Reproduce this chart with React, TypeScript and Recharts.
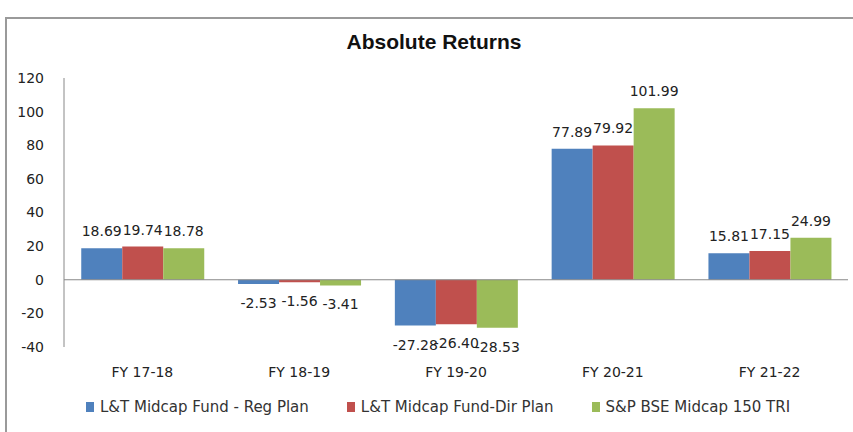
import { Bar, BarChart, Legend, ReferenceLine, XAxis, YAxis } from "recharts";

const categories = ["FY 17-18", "FY 18-19", "FY 19-20", "FY 20-21", "FY 21-22"];
const regPlan = [18.69, -2.53, -27.28, 77.89, 15.81];
const dirPlan = [19.74, -1.56, -26.4, 79.92, 17.15];
const benchmark = [18.78, -3.41, -28.53, 101.99, 24.99];
const yTicks = [-40, -20, 0, 20, 40, 60, 80, 100, 120];

const series = [
  { key: "reg", name: "L&T Midcap Fund - Reg Plan", color: "#4F81BD" },
  { key: "dir", name: "L&T Midcap Fund-Dir Plan", color: "#C0504D" },
  { key: "bench", name: "S&P BSE Midcap 150 TRI", color: "#9BBB59" },
];

const data = categories.map((c, i) => ({
  name: c,
  reg: regPlan[i],
  dir: dirPlan[i],
  bench: benchmark[i],
}));

const FONT = "'DejaVu Sans', sans-serif";

const ValueLabel = (props: any) => {
  const { x, y, width, height, value } = props;
  const top = Math.min(y, y + height);
  const bottom = Math.max(y, y + height);
  const ty = value >= 0 ? top - 17 : bottom + 19;
  return (
    <text
      x={x + width / 2}
      y={ty}
      textAnchor="middle"
      dominantBaseline="central"
      fontSize={14}
      fontFamily={FONT}
      fill="#222"
    >
      {Number(value).toFixed(2)}
    </text>
  );
};

const LegendContent = (props: any) => {
  const { payload } = props;
  return (
    <div style={{ display: "flex", gap: 38, fontFamily: FONT, fontSize: 15, color: "#333" }}>
      {payload.map((p: any) => (
        <div key={p.value} style={{ display: "flex", alignItems: "center" }}>
          <span style={{ width: 8, height: 10, background: p.color, marginRight: 6 }} />
          <span>{p.value}</span>
        </div>
      ))}
    </div>
  );
};

const App = () => {
  return (
    <div
      style={{
        position: "absolute",
        left: 0,
        top: 0,
        width: 853,
        height: 432,
        background: "#fff",
        overflow: "hidden",
      }}
    >
      <div
        style={{
          position: "absolute",
          left: 5,
          top: 17,
          width: 870,
          height: 440,
          border: "2px solid #9a9a9a",
        }}
      />
      <div
        style={{
          position: "absolute",
          left: 6,
          width: 856,
          top: 30,
          textAlign: "center",
          fontFamily: "'Liberation Sans', sans-serif",
          fontWeight: "bold",
          fontSize: 21,
          color: "#111",
        }}
      >
        Absolute Returns
      </div>
      <div style={{ position: "absolute", left: 0, top: 0 }}>
        <BarChart
          width={853}
          height={432}
          data={data}
          margin={{ top: 78, right: 5, bottom: 55, left: 0 }}
          barCategoryGap="11%"
          barGap={0}
        >
          <XAxis
            dataKey="name"
            axisLine={false}
            tickLine={false}
            tickSize={0}
            tickMargin={20}
            height={30}
            tick={{ fontSize: 14, fontFamily: FONT, fill: "#222" }}
          />
          <YAxis
            domain={[-40, 120]}
            ticks={yTicks}
            interval={0}
            width={64}
            tickLine={false}
            tickSize={0}
            tickMargin={20}
            axisLine={{ stroke: "#888" }}
            tick={{ fontSize: 14, fontFamily: FONT, fill: "#222" }}
          />
          <ReferenceLine y={0} stroke="#888" />
          <Legend
            verticalAlign="middle"
            align="center"
            content={<LegendContent />}
            wrapperStyle={{ top: 398, left: 86, width: "auto" }}
          />
          {series.map((s) => (
            <Bar
              key={s.key}
              dataKey={s.key}
              name={s.name}
              fill={s.color}
              isAnimationActive={false}
              label={<ValueLabel />}
            />
          ))}
        </BarChart>
      </div>
    </div>
  );
};

export default App;
